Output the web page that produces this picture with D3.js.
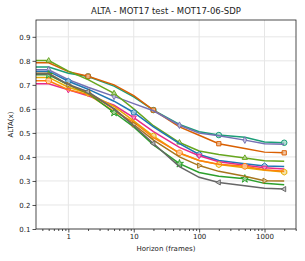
<!DOCTYPE html>
<html><head><meta charset="utf-8">
<script src="https://cdn.jsdelivr.net/npm/d3@7"></script>
<style>body{margin:0;background:#fff}text{font-family:"DejaVu Sans",sans-serif}</style>
</head><body><svg id="c" width="305" height="261"></svg>
<script>
const horizons = [0.32, 0.5, 1, 2, 5, 10, 20, 50, 100, 200, 500, 1000, 2000];
const xTicks = [1, 10, 100, 1000];
const yTicks = [0.1, 0.2, 0.3, 0.4, 0.5, 0.6, 0.7, 0.8, 0.9];
const names = ["teal","orange","purple","olive","blue","pink","yellow","orange2","green","brown","gray"];
const colors = ["#1b9e77","#d95f02","#7570b3","#66a61e","#1f77b4","#e7298a","#e6ab02","#ff7f0e","#2ca02c","#a6761d","#666666"];
const markers = ["circle","square","thindiamond","triup","pentagon","tridown","hexagon","octagon","star","triright","trileft"];
const markOffset = [2,2,0,0,1,1,2,0,0,1,2];
const vTeal    = [0.774,0.774,0.748,0.735,0.695,0.650,0.595,0.535,0.505,0.491,0.482,0.462,0.459];
const vOrange  = [0.792,0.792,0.755,0.736,0.700,0.655,0.595,0.525,0.490,0.455,0.435,0.420,0.417];
const vPurple  = [0.763,0.763,0.722,0.690,0.652,0.622,0.592,0.532,0.500,0.488,0.470,0.455,0.453];
const vOlive   = [0.801,0.801,0.757,0.722,0.665,0.600,0.530,0.460,0.425,0.410,0.396,0.384,0.382];
const vBlue    = [0.756,0.756,0.715,0.682,0.632,0.585,0.525,0.455,0.410,0.385,0.372,0.362,0.360];
const vPink    = [0.705,0.705,0.679,0.655,0.615,0.564,0.505,0.440,0.405,0.380,0.365,0.355,0.350];
const vYellow  = [0.731,0.731,0.690,0.665,0.610,0.550,0.487,0.415,0.385,0.368,0.355,0.345,0.337];
const vOrange2 = [0.717,0.717,0.680,0.660,0.590,0.545,0.480,0.417,0.385,0.370,0.361,0.347,0.340];
const vGreen   = [0.742,0.742,0.700,0.665,0.585,0.525,0.450,0.372,0.335,0.320,0.309,0.290,0.284];
const vBrown   = [0.748,0.748,0.700,0.667,0.600,0.535,0.470,0.400,0.364,0.340,0.320,0.301,0.300];
const vGray    = [0.745,0.745,0.702,0.672,0.600,0.530,0.456,0.360,0.315,0.294,0.280,0.270,0.266];
const values = [vTeal,vOrange,vPurple,vOlive,vBlue,vPink,vYellow,vOrange2,vGreen,vBrown,vGray];

const svg = d3.select("#c");
const L=36,R=296,T=20,B=229;
const x = d3.scaleLog().domain([0.32,3030]).range([L,R]);
const y = d3.scaleLinear().domain([0.1,0.97]).range([B,T]);

svg.append("g").selectAll("line").data(xTicks).join("line")
 .attr("x1",d=>x(d)).attr("x2",d=>x(d)).attr("y1",T).attr("y2",B)
 .attr("stroke","#e6e6e6").attr("stroke-width",1);
svg.append("g").selectAll("line").data(yTicks).join("line")
 .attr("x1",L).attr("x2",R).attr("y1",d=>y(d)).attr("y2",d=>y(d))
 .attr("stroke","#e6e6e6").attr("stroke-width",1);

const minor=[];
[0.1,1,10,100,1000].forEach(b=>{for(let k=2;k<=9;k++){const v=b*k;if(v>=0.32&&v<=3030)minor.push(v);}});
svg.append("g").attr("transform",`translate(0,${B})`)
 .call(d3.axisBottom(x).tickValues(xTicks).tickFormat(d3.format("d")).tickSize(3.5).tickPadding(2));
svg.append("g").attr("transform",`translate(0,${B})`)
 .call(d3.axisBottom(x).tickValues(minor).tickFormat("").tickSize(2));
svg.append("g").attr("transform",`translate(${L},0)`)
 .call(d3.axisLeft(y).tickValues(yTicks).tickFormat(d3.format(".1f")).tickSize(3.5).tickPadding(2));
svg.selectAll(".tick text").attr("font-size",7).attr("font-family","DejaVu Sans").attr("fill","#222");
svg.selectAll(".tick line").attr("stroke","#222").attr("stroke-width",0.8);
svg.selectAll(".domain").remove();

function markerPath(type, s){
  const poly=(n,rot)=>{const p=[];for(let i=0;i<n;i++){const a=rot+i*2*Math.PI/n;p.push([s*Math.cos(a),s*Math.sin(a)]);}return "M"+p.map(q=>q.join(",")).join("L")+"Z";};
  switch(type){
    case "circle": return d3.symbol(d3.symbolCircle, Math.PI*s*s*0.85)();
    case "square": return poly(4,Math.PI/4);
    case "thindiamond": return `M0,${-s*1.1}L${s*0.6},0L0,${s*1.1}L${-s*0.6},0Z`;
    case "triup": return poly(3,-Math.PI/2);
    case "tridown": return poly(3,Math.PI/2);
    case "triright": return poly(3,0);
    case "trileft": return poly(3,Math.PI);
    case "pentagon": return poly(5,-Math.PI/2);
    case "hexagon": return poly(6,-Math.PI/2);
    case "octagon": return poly(8,Math.PI/8);
    case "star": return d3.symbol(d3.symbolStar, s*s*2.2)();
  }
}
const line = d3.line().x(d=>x(d[0])).y(d=>y(d[1]));
const plot = svg.append("g");
values.forEach((vals,i)=>{
  const pts = horizons.map((h,j)=>[h,vals[j]]);
  plot.append("path").datum(pts).attr("d",line).attr("fill","none")
   .attr("stroke",colors[i]).attr("stroke-width",1.5);
  const mk = pts.slice(1).filter((p,j)=>j>=markOffset[i] && (j-markOffset[i])%3===0);
  plot.append("g").selectAll("path").data(mk).join("path")
   .attr("transform",d=>`translate(${x(d[0])},${y(d[1])})`)
   .attr("d",markerPath(markers[i],3))
   .attr("fill",d3.interpolateRgb(colors[i],"#fff")(0.6)).attr("fill-opacity",0.8)
   .attr("stroke",colors[i]).attr("stroke-width",1);
});

svg.append("rect").attr("x",L).attr("y",T).attr("width",R-L).attr("height",B-T)
 .attr("fill","none").attr("stroke","#222").attr("stroke-width",0.8);

svg.append("text").attr("x",(L+R)/2).attr("y",14).attr("text-anchor","middle")
 .attr("font-size",8.5).attr("fill","#222").text("ALTA - MOT17 test - MOT17-06-SDP");
svg.append("text").attr("x",(L+R)/2).attr("y",251).attr("text-anchor","middle")
 .attr("font-size",7).attr("fill","#222").text("Horizon (frames)");
svg.append("text").attr("transform",`translate(13,${(T+B)/2}) rotate(-90)`).attr("text-anchor","middle")
 .attr("font-size",7).attr("fill","#222").text("ALTA(x)");
</script></body></html>
